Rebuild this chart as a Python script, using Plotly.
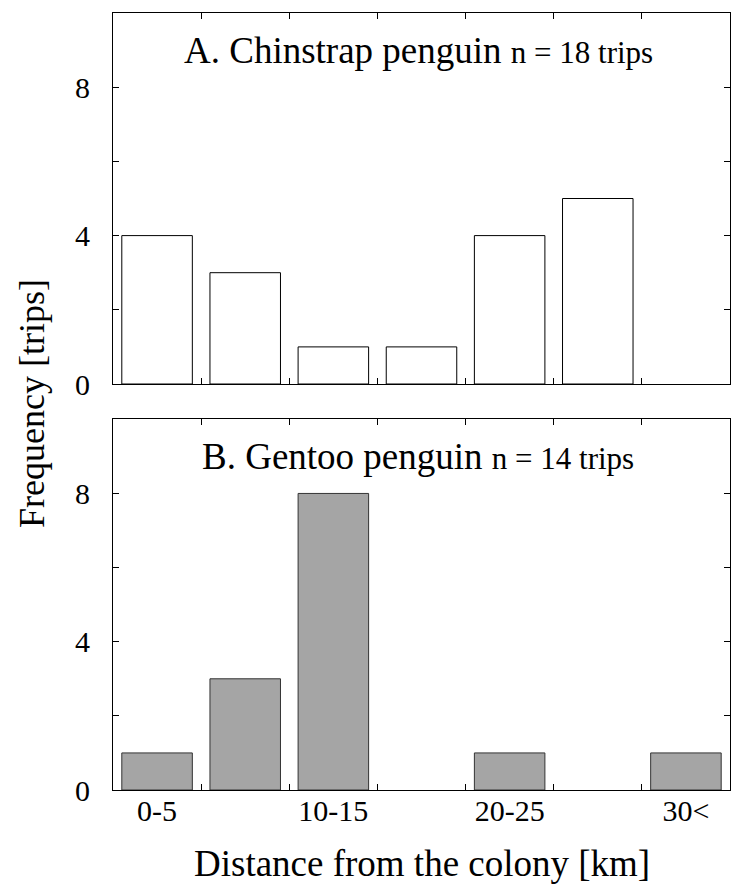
import plotly.graph_objects as go

categories = ["0-5", "5-10", "10-15", "15-20", "20-25", "25-30", "30<"]
tick_labels = ["0-5", "", "10-15", "", "20-25", "", "30<"]
chinstrap = [4, 3, 1, 1, 4, 5, 0]
gentoo = [1, 3, 8, 0, 1, 0, 1]
y_ticks = [0, 2, 4, 6, 8, 10]
y_tick_labels = ["0", "", "4", "", "8", ""]

FONT = "Liberation Serif, Times New Roman, serif"

fig = go.Figure()
fig.add_trace(go.Bar(x=categories, y=chinstrap, width=0.8,
                     marker=dict(color="white",
                                 line=dict(color="black", width=[1 if v > 0 else 0 for v in chinstrap])),
                     xaxis="x", yaxis="y", showlegend=False))
fig.add_trace(go.Bar(x=categories, y=gentoo, width=0.8,
                     marker=dict(color="#a5a5a5",
                                 line=dict(color="#333333", width=[1 if v > 0 else 0 for v in gentoo])),
                     xaxis="x2", yaxis="y2", showlegend=False))

W, H = 732, 888
ml, mr, mt, mb = 113, 2, 13, 98
ph = H - mt - mb
pw = W - ml - mr
top_dom = [(790 - 384) / ph, 1.0]
bot_dom = [0.0, (790 - 419.3) / ph]

common_x = dict(type="category", categoryorder="array", categoryarray=categories,
                range=[-0.5, 6.5], tickson="boundaries", ticks="inside", ticklen=6,
                tickcolor="black", tickwidth=1, showline=True, linecolor="black",
                linewidth=1, mirror="ticks", showgrid=False, zeroline=False,
                tickvals=categories, ticktext=tick_labels, ticklabelstandoff=-6,
                tickfont=dict(family=FONT, size=30, color="black"))
common_y = dict(range=[0, 10], tickvals=y_ticks, ticktext=y_tick_labels,
                ticks="inside", ticklen=6, tickcolor="black", tickwidth=1,
                showline=True, linecolor="black", linewidth=1, mirror="ticks",
                showgrid=False, zeroline=False, ticklabelstandoff=16,
                tickfont=dict(family=FONT, size=30, color="black"))

fig.update_layout(
    width=W, height=H,
    margin=dict(l=ml, r=mr, t=mt, b=mb),
    plot_bgcolor="white", paper_bgcolor="white",
    font=dict(family=FONT, color="black"),
    xaxis=dict(common_x, domain=[0, 1], anchor="y", showticklabels=False),
    yaxis=dict(common_y, domain=top_dom, anchor="x"),
    xaxis2=dict(common_x, domain=[0, 1], anchor="y2", showticklabels=True),
    yaxis2=dict(common_y, domain=bot_dom, anchor="x2"),
    bargap=0.2,
)

fig.add_annotation(text="A. Chinstrap penguin <span style='font-size:31px'>n = 18 trips</span>",
                   x=0.495, xref="x domain", y=9.0, yref="y", yanchor="middle",
                   showarrow=False, font=dict(family=FONT, size=37, color="black"))
fig.add_annotation(text="B. Gentoo penguin <span style='font-size:31px'>n = 14 trips</span>",
                   x=0.495, xref="x2 domain", y=9.0, yref="y2", yanchor="middle",
                   showarrow=False, font=dict(family=FONT, size=37, color="black"))
fig.add_annotation(text="Distance from the colony [km]",
                   x=0.5, xref="paper", y=-(863 - 790) / ph, yref="paper", yanchor="middle",
                   showarrow=False, font=dict(family=FONT, size=37, color="black"))
fig.add_annotation(text="Frequency [trips]", textangle=-90,
                   x=(32 - ml) / pw, xref="paper", xanchor="center",
                   y=(790 - 404) / ph, yref="paper", yanchor="middle",
                   showarrow=False, font=dict(family=FONT, size=36, color="black"))

fig.write_html("out.html")
